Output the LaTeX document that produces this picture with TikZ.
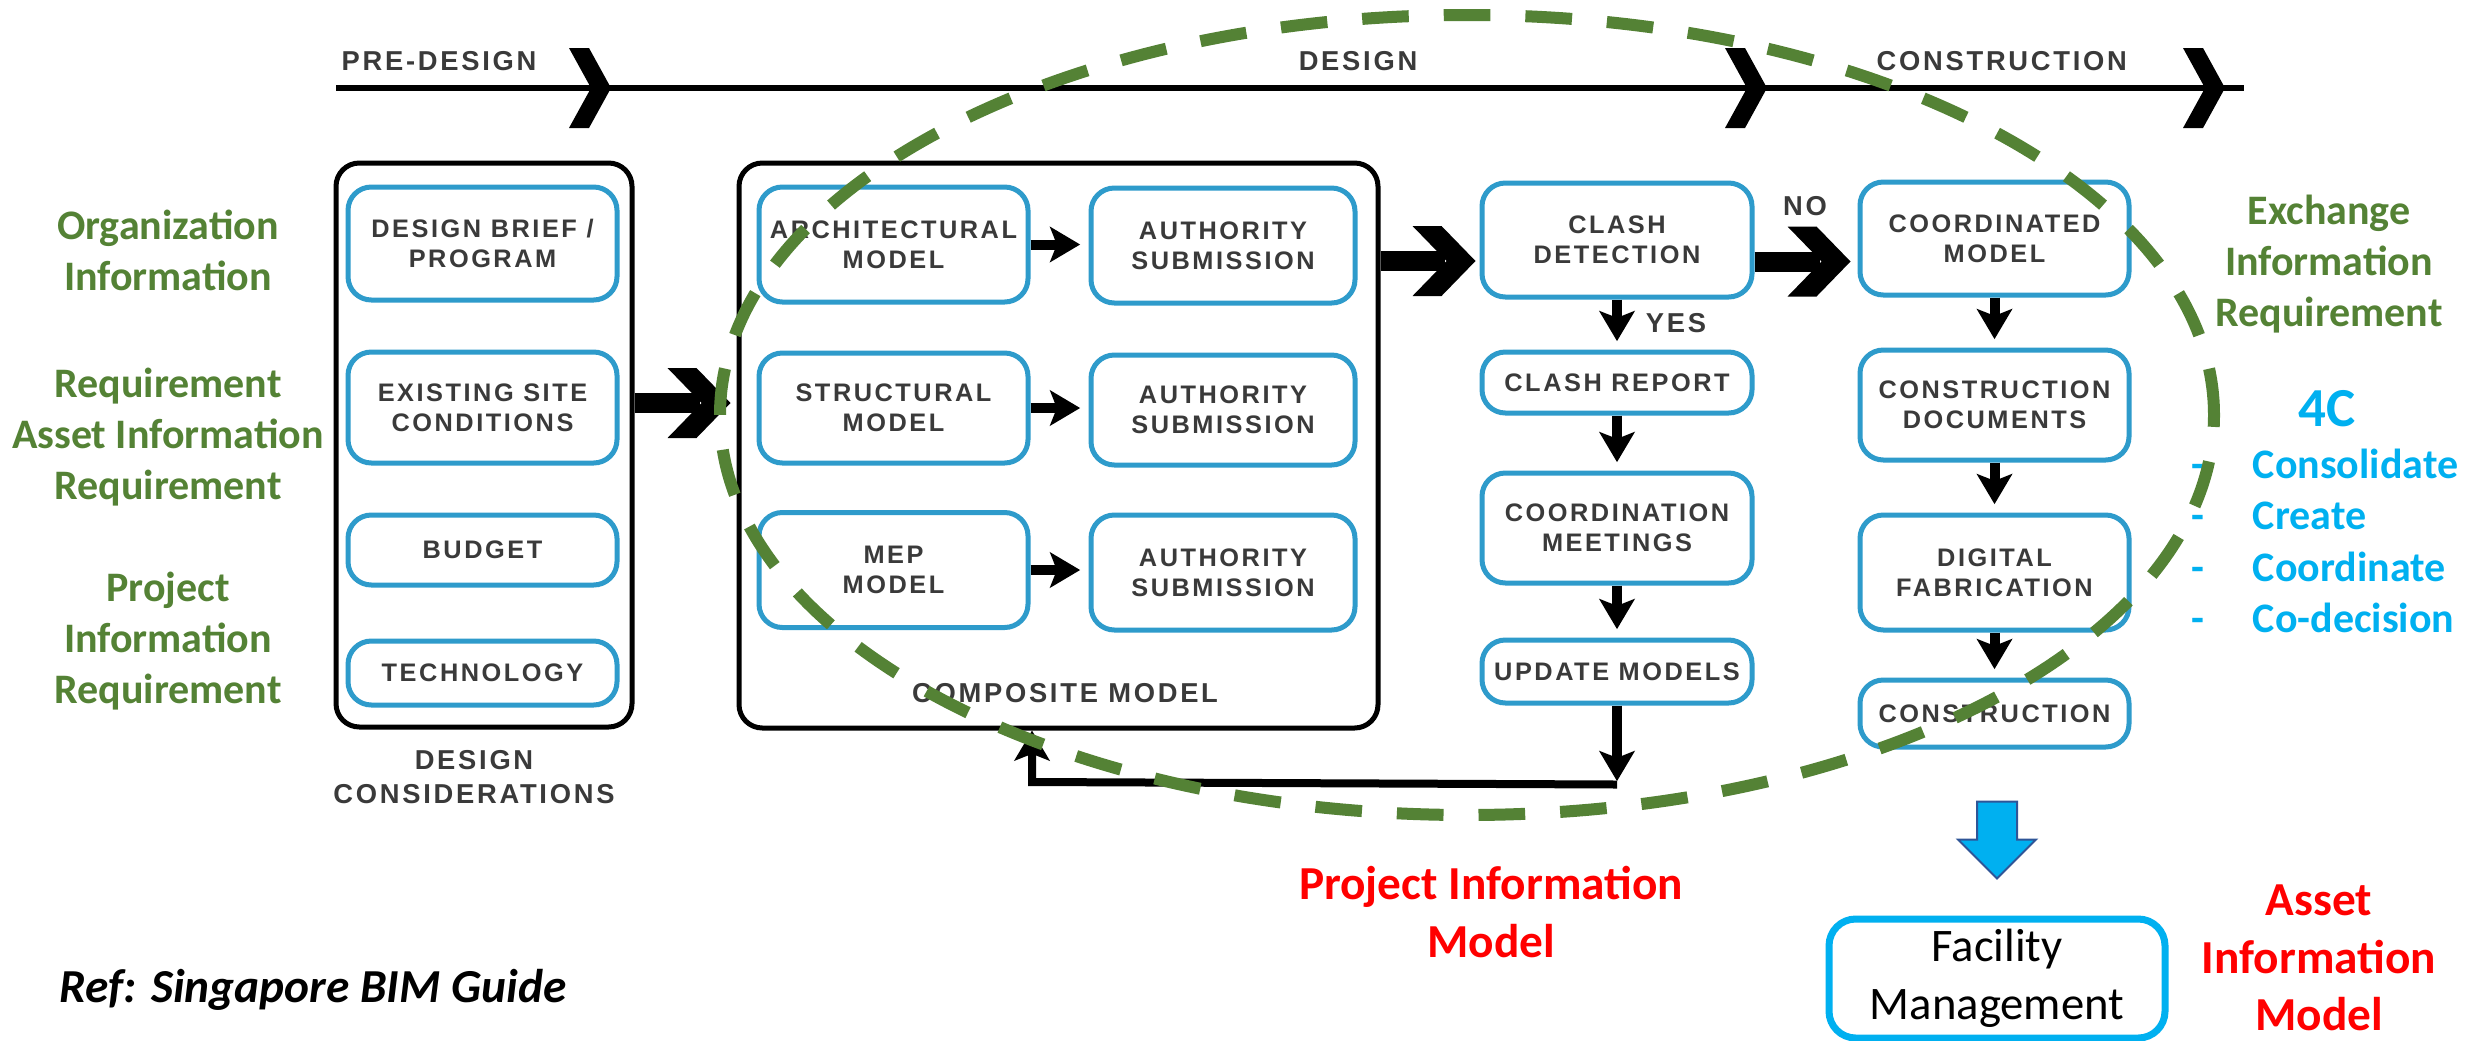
\documentclass[tikz,border=0pt]{standalone}
\usepackage{fontspec}
\usetikzlibrary{arrows.meta,calc}
\newfontfamily\calib{Carlito}
\newfontfamily\boxf{Liberation Sans}[LetterSpace=10.0]
\definecolor{grn}{HTML}{548235}
\definecolor{cyanb}{HTML}{00B0F0}
\definecolor{redt}{HTML}{FF0000}
\definecolor{boxblue}{HTML}{2E9BCB}
\definecolor{boxtext}{HTML}{3A3A3A}
\definecolor{arrblue}{HTML}{2F5597}
\newcommand\pxu{0.3pt}
\tikzset{
  bbox/.style={draw=boxblue, line width=1.5pt, rounded corners=7pt, fill=white, inner sep=0pt,
    align=center, text=boxtext, font=\boxf\bfseries\fontsize{7.6}{9}\selectfont},
  obox/.style={draw=black, line width=1.5pt, rounded corners=7pt, inner sep=0pt},
  sz/.style 2 args={minimum width=#1*\pxu, minimum height=#2*\pxu},
  sarr/.style={line width=3pt, -{Stealth[length=9pt,width=10.5pt,inset=2pt]}, shorten >=2.5pt},
  fbline/.style={line width=2.4pt, -{Stealth[length=9pt,width=10.5pt,inset=2pt]}},
  bigshaft/.style={line width=6pt},
  lbl/.style={text=boxtext, font=\boxf\bfseries\fontsize{8.2}{10}\selectfont, inner sep=0pt, align=center},
  grntext/.style={text=grn, font=\calib\bfseries\fontsize{12.6}{15.3}\selectfont, align=center, inner sep=0pt},
  redtext/.style={text=redt, font=\calib\bfseries\fontsize{14.2}{17.3}\selectfont, align=center, inner sep=0pt},
  pics/bigchev/.style={code={\fill (-63,-35) -- (-34,-35) -- (0,0) -- (-34,35) -- (-63,35) -- (-29,0) -- cycle;}},
  pics/tlchev/.style={code={\fill (-42,-40) -- (-22,-40) -- (0,0) -- (-22,40) -- (-42,40) -- (-20,0) -- cycle;}},
  pics/bluearr/.style={code={\filldraw[fill=cyanb, draw=arrblue, line width=0.6pt]
      (-20,-77) -- (20,-77) -- (20,-39) -- (39,-39) -- (0,0) -- (-39,-39) -- (-20,-39) -- cycle;}},
}
\begin{document}
\begin{tikzpicture}[x=0.3pt,y=-0.3pt]
\useasboundingbox (0,0) rectangle (2478,1040);
\fill[white] (0,0) rectangle (2478,1040);

% timeline
\coordinate (tls) at (336,88);
\coordinate (tle) at (2244,88);
\draw[line width=1.8pt] (tls) -- (tle);
\pic at (611,88) {tlchev};
\pic at (1767,88) {tlchev};
\pic at (2225,88) {tlchev};
\node[lbl, anchor=base west] (tpre) at (341,70) {PRE-DESIGN};
\node[lbl, anchor=base] (tdes) at (1358,70) {DESIGN};
\node[lbl, anchor=base west] (tcon) at (1876,70) {CONSTRUCTION};

% outer boxes
\node[obox, sz={296}{564}] (dc) at (484,445) {};
\node[obox, sz={639}{565}] (comp) at (1058.5,445.5) {};
\node[lbl] (dclab) at (474,777) {DESIGN\\CONSIDERATIONS};
\node[lbl, anchor=base] (complab) at (1065,702) {COMPOSITE MODEL};

% design considerations
\node[bbox, sz={269}{113}] (db) at (482.5,243.5) {DESIGN BRIEF /\\PROGRAM};
\node[bbox, sz={269}{111}] (esc) at (482.5,407.5) {EXISTING SITE\\CONDITIONS};
\node[bbox, sz={269}{70}] (bud) at (482.5,550) {BUDGET};
\node[bbox, sz={269}{64}] (tech) at (482.5,673) {TECHNOLOGY};

% composite model
\node[bbox, sz={269}{115}] (arch) at (893.5,244.5) {ARCHITECTURAL\\MODEL};
\node[bbox, sz={269}{110}] (struct) at (893.5,408) {STRUCTURAL\\MODEL};
\node[bbox, sz={269}{115}] (mep) at (893.5,570) {MEP\\MODEL};
\node[bbox, sz={264}{115}] (auth1) at (1223,245.5) {AUTHORITY\\SUBMISSION};
\node[bbox, sz={264}{110}] (auth2) at (1223,410) {AUTHORITY\\SUBMISSION};
\node[bbox, sz={264}{115}] (auth3) at (1223,572.5) {AUTHORITY\\SUBMISSION};
\draw[sarr] (arch.east) -- (arch.east -| auth1.west);
\draw[sarr] (struct.east) -- (struct.east -| auth2.west);
\draw[sarr] (mep.east) -- (mep.east -| auth3.west);

% clash column
\node[bbox, sz={270}{114}] (clash) at (1617,240) {CLASH\\DETECTION};
\node[bbox, sz={270}{61}] (rep) at (1617,382.5) {CLASH REPORT};
\node[bbox, sz={270}{110}] (meet) at (1617,528) {COORDINATION\\MEETINGS};
\node[bbox, sz={270}{63}] (upd) at (1617,671.5) {UPDATE MODELS};
\draw[sarr] (clash.south) -- (rep.north);
\draw[sarr] (rep.south) -- (meet.north);
\draw[sarr] (meet.south) -- (upd.north);
\node[lbl] (yes) at (1676,323) {YES};

% construction column
\node[bbox, sz={269}{113}] (coord) at (1994.5,238.5) {COORDINATED\\MODEL};
\node[bbox, sz={269}{110}] (docs) at (1994.5,405) {CONSTRUCTION\\DOCUMENTS};
\node[bbox, sz={269}{115}] (fab) at (1994.5,572.5) {DIGITAL\\FABRICATION};
\node[bbox, sz={269}{67}] (cons) at (1994.5,713.5) {CONSTRUCTION};
\draw[sarr] (coord.south) -- (docs.north);
\draw[sarr] (docs.south) -- (fab.north);
\draw[sarr] (fab.south) -- (cons.north);
\node[lbl] (no) at (1805,206) {NO};

% big arrows
\coordinate (tA) at ($(comp.west)+(-6,-42.5)$);
\draw[bigshaft] (dc.east |- tA) -- ($(tA)+(-31,0)$);
\pic at (tA) {bigchev};
\coordinate (tB) at ($(clash.west)+(-4,21)$);
\draw[bigshaft] (comp.east |- tB) -- ($(tB)+(-31,0)$);
\pic at (tB) {bigchev};
\coordinate (tC) at ($(coord.west)+(-7,23)$);
\draw[bigshaft] (clash.east |- tC) -- ($(tC)+(-31,0)$);
\pic at (tC) {bigchev};

% feedback loop
\coordinate (fb1) at ($(upd.south)+(0,79)$);
\coordinate (fb2) at (1032,782);
\draw[sarr, shorten >=1pt] (upd.south) -- (fb1);
\draw[fbline] (fb1) -- (fb2) -- (fb2 |- comp.south);

% left labels
\node[grntext] (org) at (168,250) {Organization\\Information};
\node[grntext] (air) at (168,437) {Requirement\\Asset Information\\Requirement};
\node[grntext] (pir) at (168,641) {Project\\Information\\Requirement};

% right labels
\node[grntext] (eir) at (2329,264) {Exchange\\Information\\Requirement};
\node[text=cyanb, font=\calib\bfseries\fontsize{16.5}{20}\selectfont, inner sep=0pt] (fourc) at (2327,408.5) {4C};
\node[anchor=north west, inner sep=0pt, text=cyanb, font=\calib\bfseries\fontsize{12.6}{15.4}\selectfont] (list) at (2191,442)
  {\begin{tabular}{@{}l@{\hspace{14.5pt}}l@{}}-&Consolidate\\-&Create\\-&Coordinate\\-&Co-decision\end{tabular}};

% facility management
\node[draw=cyanb, line width=2.1pt, rounded corners=8pt, sz={336}{119}, align=center, inner sep=0pt,
  font=\calib\fontsize{14}{17.4}\selectfont] (fm) at (1997,978.5) {Facility\\Management};
\coordinate (bat) at ($(fm.north)+(0,-37)$);
\pic at (bat) {bluearr};

% red labels
\node[redtext] (pim) at (1491,912) {Project Information\\Model};
\node[redtext] (aim) at (2319,958) {Asset\\Information\\Model};

% reference
\node[anchor=base west, inner sep=0pt, font=\calib\bfseries\itshape\fontsize{14.2}{17}\selectfont] (ref) at (59,1002) {Ref: Singapore BIM Guide};

% ellipse
\draw[grn, line width=3.6pt, dash pattern=on 14pt off 10.5pt] (1467,415) ellipse [x radius=747*\pxu, y radius=400*\pxu];
\end{tikzpicture}
\end{document}
